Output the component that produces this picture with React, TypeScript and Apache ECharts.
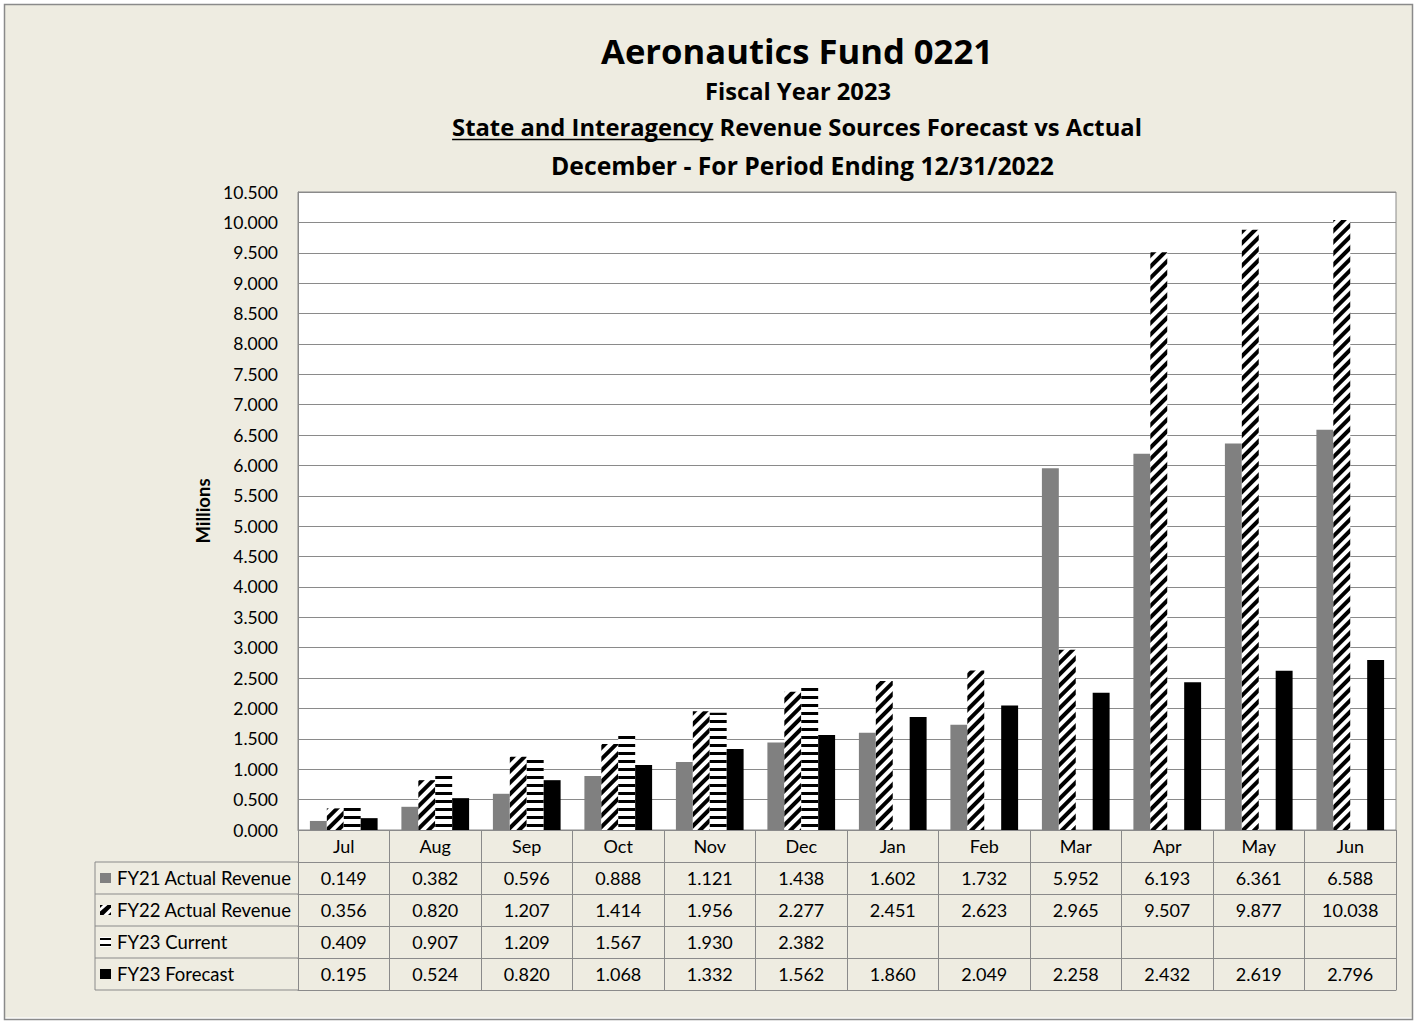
import React, { useEffect, useRef } from 'react';
import * as echarts from 'echarts';

const months = ['Jul', 'Aug', 'Sep', 'Oct', 'Nov', 'Dec', 'Jan', 'Feb', 'Mar', 'Apr', 'May', 'Jun'];
const fy21Actual = [0.149, 0.382, 0.596, 0.888, 1.121, 1.438, 1.602, 1.732, 5.952, 6.193, 6.361, 6.588];
const fy22Actual = [0.356, 0.82, 1.207, 1.414, 1.956, 2.277, 2.451, 2.623, 2.965, 9.507, 9.877, 10.038];
const fy23Current: (number | null)[] = [0.409, 0.907, 1.209, 1.567, 1.93, 2.382, null, null, null, null, null, null];
const fy23Forecast = [0.195, 0.524, 0.82, 1.068, 1.332, 1.562, 1.86, 2.049, 2.258, 2.432, 2.619, 2.796];
const seriesNames = ['FY21 Actual Revenue', 'FY22 Actual Revenue', 'FY23 Current', 'FY23 Forecast'];
const yMin = 0;
const yMax = 10.5;
const yInterval = 0.5;
const titleMain = 'Aeronautics Fund 0221';
const titleSub1 = 'Fiscal Year 2023';
const titleSub2Underlined = 'State and Interagency';
const titleSub2Rest = ' Revenue Sources Forecast vs Actual';
const titleSub3 = 'December - For Period Ending 12/31/2022';
const yAxisName = 'Millions';

const FONT = 'Lato, "Open Sans", sans-serif';
const TFONT = '"Open Sans", Lato, sans-serif';
const GRAY = '#8a8a8a';
const W = 1417;
const H = 1022;
const GRID_LEFT = 298;
const GRID_TOP = 192;
const GRID_RIGHT_X = 1396;
const GRID_BOTTOM_Y = 830;
const ROW_H = 32;
const TABLE_LEFT = 95;

const mctx = document.createElement('canvas').getContext('2d')!;
function measure(text: string, font: string) {
  mctx.font = font;
  return mctx.measureText(text).width;
}
function fitSize(text: string, family: string, target: number) {
  return (100 * target) / measure(text, `bold 100px ${family}`);
}

export default function App() {
  const ref = useRef<HTMLDivElement>(null);
  useEffect(() => {
    document.body.style.margin = '0';
    const chart = echarts.init(ref.current!, null, { renderer: 'svg' });
    const rows = [fy21Actual, fy22Actual, fy23Current, fy23Forecast];
    const fmt = (v: number | null) => (v == null ? '' : v.toFixed(3));

    const xAxes: any[] = [
      {
        type: 'category',
        data: months,
        position: 'bottom',
        axisLine: { lineStyle: { color: GRAY } },
        axisTick: { show: true, length: ROW_H * 5, interval: 0, lineStyle: { color: GRAY } },
        axisLabel: { interval: 0, margin: 7, fontSize: 18, color: '#000', fontFamily: FONT },
        splitLine: { show: false },
      },
    ];
    rows.forEach((row, k) => {
      xAxes.push({
        type: 'category',
        data: months,
        position: 'bottom',
        offset: ROW_H * (k + 1),
        axisLine: { lineStyle: { color: GRAY } },
        axisTick: { show: false },
        axisLabel: {
          interval: 0,
          margin: 7,
          fontSize: 18,
          color: '#000',
          fontFamily: FONT,
          formatter: (_v: string, i: number) => fmt(row[i] as any),
        },
      });
    });
    xAxes.push({
      type: 'category',
      data: months,
      position: 'bottom',
      offset: ROW_H * 5,
      axisLine: { lineStyle: { color: GRAY } },
      axisTick: { show: false },
      axisLabel: { show: false },
    });

    const mainSize = fitSize(titleMain, TFONT, 392);
    const sub1Size = fitSize(titleSub1, TFONT, 186);
    const sub2Size = fitSize(titleSub2Underlined + titleSub2Rest, TFONT, 690);
    const sub3Size = fitSize(titleSub3, TFONT, 503);
    const nameSize = fitSize(yAxisName, FONT, 65);
    const sub2Font = `bold ${sub2Size}px ${TFONT}`;
    const fullW = measure(titleSub2Underlined + titleSub2Rest, sub2Font);
    const partW = measure(titleSub2Underlined, sub2Font);
    const sub2Cx = 797;
    const ulStart = sub2Cx - fullW / 2;

    const graphics: any[] = [
      { type: 'rect', shape: { x: 0, y: 0, width: W, height: H }, style: { fill: 'none', stroke: '#fff', lineWidth: 9 } },
      { type: 'rect', shape: { x: 4.5, y: 4.5, width: W - 9, height: H - 7 }, style: { fill: 'none', stroke: GRAY, lineWidth: 1.5 } },
      { type: 'text', x: 797, y: 50, style: { text: titleMain, font: `bold ${mainSize}px ${TFONT}`, fill: '#000', align: 'center', verticalAlign: 'middle' } },
      { type: 'text', x: 798, y: 91, style: { text: titleSub1, font: `bold ${sub1Size}px ${TFONT}`, fill: '#000', align: 'center', verticalAlign: 'middle' } },
      { type: 'text', x: sub2Cx, y: 127, style: { text: titleSub2Underlined + titleSub2Rest, font: sub2Font, fill: '#000', align: 'center', verticalAlign: 'middle' } },
      { type: 'line', shape: { x1: ulStart, y1: 139.5, x2: ulStart + partW, y2: 139.5 }, style: { stroke: '#000', lineWidth: 1.5 } },
      { type: 'text', x: 802.5, y: 165, style: { text: titleSub3, font: `bold ${sub3Size}px ${TFONT}`, fill: '#000', align: 'center', verticalAlign: 'middle' } },
      { type: 'line', shape: { x1: TABLE_LEFT, y1: GRID_BOTTOM_Y + ROW_H, x2: TABLE_LEFT, y2: GRID_BOTTOM_Y + ROW_H * 5 }, style: { stroke: GRAY, lineWidth: 1 } },
    ];
    for (let k = 1; k <= 5; k++) {
      const y = GRID_BOTTOM_Y + ROW_H * k;
      graphics.push({ type: 'line', shape: { x1: TABLE_LEFT, y1: y, x2: GRID_LEFT, y2: y }, style: { stroke: GRAY, lineWidth: 1 } });
    }
    seriesNames.forEach((name, k) => {
      const yc = GRID_BOTTOM_Y + ROW_H * (k + 1) + ROW_H / 2;
      graphics.push({ type: 'text', x: 117, y: yc, style: { text: name, font: `18.5px ${FONT}`, fill: '#000', align: 'left', verticalAlign: 'middle' } });
      const sx = 100, sy = yc - 5, s = 11;
      if (k === 0) {
        graphics.push({ type: 'rect', shape: { x: sx, y: sy, width: s, height: 10 }, style: { fill: '#808080' } });
      } else if (k === 1) {
        graphics.push({ type: 'rect', shape: { x: sx, y: sy, width: s, height: 10 }, style: { fill: '#fff' } });
        graphics.push({ type: 'polygon', shape: { points: [[sx, sy + 10], [sx + 3.5, sy + 10], [sx + s, sy + 2.5], [sx + s, sy], [sx + 7.5, sy], [sx, sy + 6.5]] }, style: { fill: '#000' } });
        graphics.push({ type: 'polygon', shape: { points: [[sx, sy], [sx + 3, sy], [sx, sy + 3]] }, style: { fill: '#000' } });
        graphics.push({ type: 'polygon', shape: { points: [[sx + s, sy + 10], [sx + s - 3, sy + 10], [sx + s, sy + 7]] }, style: { fill: '#000' } });
      } else if (k === 2) {
        graphics.push({ type: 'rect', shape: { x: sx, y: sy, width: s, height: 10 }, style: { fill: '#fff' } });
        graphics.push({ type: 'rect', shape: { x: sx, y: sy + 1, width: s, height: 2 }, style: { fill: '#000' } });
        graphics.push({ type: 'rect', shape: { x: sx, y: sy + 7, width: s, height: 2 }, style: { fill: '#000' } });
      } else {
        graphics.push({ type: 'rect', shape: { x: sx, y: sy, width: s, height: 10 }, style: { fill: '#000' } });
      }
    });

    const option: any = {
      animation: false,
      backgroundColor: '#EEECE1',
      textStyle: { fontFamily: FONT },
      grid: {
        left: GRID_LEFT,
        top: GRID_TOP,
        right: W - GRID_RIGHT_X,
        bottom: H - GRID_BOTTOM_Y,
        show: true,
        backgroundColor: '#fff',
        borderColor: GRAY,
        borderWidth: 1,
      },
      xAxis: xAxes,
      yAxis: {
        type: 'value',
        min: yMin,
        max: yMax,
        interval: yInterval,
        name: yAxisName,
        nameLocation: 'middle',
        nameGap: 86,
        nameTextStyle: { fontSize: nameSize, fontWeight: 'bold', color: '#000', fontFamily: FONT },
        axisLine: { show: true, lineStyle: { color: GRAY } },
        axisTick: { show: false },
        axisLabel: { fontSize: 17.5, color: '#000', margin: 20, fontFamily: FONT, formatter: (v: number) => v.toFixed(3) },
        splitLine: { lineStyle: { color: GRAY, width: 1 } },
      },
      series: [
        {
          name: seriesNames[0],
          type: 'bar',
          data: fy21Actual,
          barGap: '0%',
          barCategoryGap: '26%',
          itemStyle: { color: '#808080' },
        },
        {
          name: seriesNames[1],
          type: 'bar',
          data: fy22Actual,
          itemStyle: {
            color: '#fff',
            decal: {
              symbol: 'rect',
              symbolSize: 1,
              dashArrayX: [1, 0],
              dashArrayY: [4, 4],
              rotation: -Math.PI / 4,
              color: '#000',
              backgroundColor: '#fff',
            },
          },
        },
        {
          name: seriesNames[2],
          type: 'bar',
          data: fy23Current,
          itemStyle: {
            color: '#fff',
            decal: {
              symbol: 'rect',
              symbolSize: 1,
              dashArrayX: [1, 0],
              dashArrayY: [3, 5],
              rotation: 0,
              color: '#000',
              backgroundColor: '#fff',
            },
          },
        },
        {
          name: seriesNames[3],
          type: 'bar',
          data: fy23Forecast,
          itemStyle: { color: '#000' },
        },
      ],
      graphic: graphics,
    };
    chart.setOption(option);
    return () => chart.dispose();
  }, []);
  return <div ref={ref} style={{ width: W, height: H, position: 'absolute', left: 0, top: 0 }} />;
}
